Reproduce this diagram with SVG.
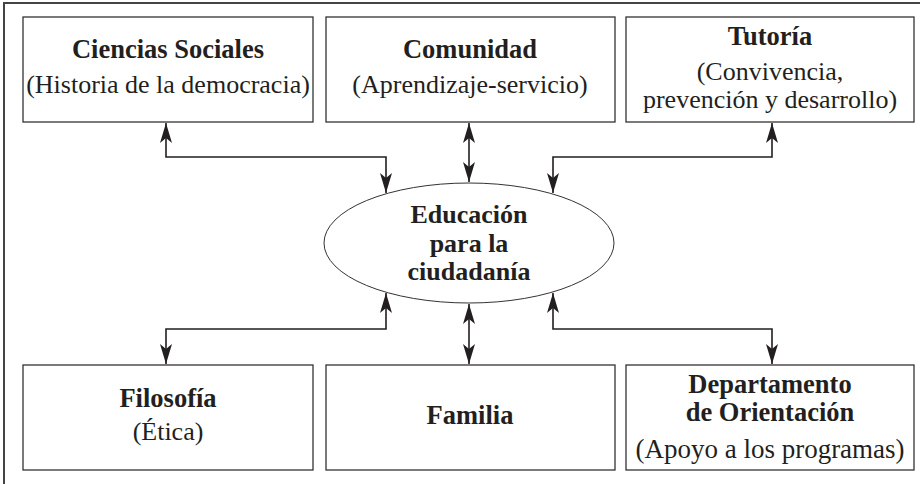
<svg xmlns="http://www.w3.org/2000/svg" width="920" height="484" viewBox="0 0 920 484">
<style>
.box{fill:#fff;stroke:#333;stroke-width:1.3}
.t{font-family:"Liberation Serif","Times New Roman",serif;font-size:26px;fill:#231f20;text-anchor:middle}
.b{font-weight:bold;font-size:26.5px}
.e{font-weight:bold;font-size:26px}
.c{fill:none;stroke:#231f20;stroke-width:1.6}
</style>
<defs>
<marker id="ah" viewBox="0 0 20 12" refX="20" refY="6" markerWidth="20" markerHeight="12" markerUnits="userSpaceOnUse" orient="auto-start-reverse">
<path d="M0,0 L20,6 L0,12 L5,6 z" fill="#231f20"/>
</marker>
</defs>
<rect x="0" y="0" width="920" height="484" fill="#fff"/>
<rect x="4" y="3" width="940" height="500" fill="none" stroke="#444" stroke-width="2"/>
<g id="connectors">
<path class="c" d="M166,123 V157 H386 V193" marker-start="url(#ah)" marker-end="url(#ah)"/>
<path class="c" d="M469,123 V182" marker-start="url(#ah)" marker-end="url(#ah)"/>
<path class="c" d="M772,123 V157 H553 V193" marker-start="url(#ah)" marker-end="url(#ah)"/>
<path class="c" d="M386,293 V329 H166 V364" marker-start="url(#ah)" marker-end="url(#ah)"/>
<path class="c" d="M469,304 V364" marker-start="url(#ah)" marker-end="url(#ah)"/>
<path class="c" d="M553,293 V329 H772 V364" marker-start="url(#ah)" marker-end="url(#ah)"/>
</g>
<g id="ciencias">
<rect class="box" x="23" y="17" width="290" height="105"/>
<text class="t b" x="168" y="58">Ciencias Sociales</text>
<text class="t" x="168" y="93">(Historia de la democracia)</text>
</g>
<g id="comunidad">
<rect class="box" x="326" y="17" width="289" height="105"/>
<text class="t b" x="470" y="58">Comunidad</text>
<text class="t" x="470" y="93">(Aprendizaje-servicio)</text>
</g>
<g id="tutoria">
<rect class="box" x="626" y="17" width="288" height="105"/>
<text class="t b" x="770" y="45">Tutoría</text>
<text class="t" x="770" y="80">(Convivencia,</text>
<text class="t" x="770" y="108">prevención y desarrollo)</text>
</g>
<g id="educacion">
<ellipse cx="469" cy="243" rx="145" ry="60" fill="#fff" stroke="#333" stroke-width="1"/>
<text class="t e" x="469" y="223">Educación</text>
<text class="t e" x="469" y="252">para la</text>
<text class="t e" x="469" y="280">ciudadanía</text>
</g>
<g id="filosofia">
<rect class="box" x="23" y="365" width="290" height="105"/>
<text class="t b" x="168" y="407">Filosofía</text>
<text class="t" x="168" y="440">(Ética)</text>
</g>
<g id="familia">
<rect class="box" x="326" y="365" width="289" height="105"/>
<text class="t b" x="470" y="424">Familia</text>
</g>
<g id="departamento">
<rect class="box" x="626" y="365" width="288" height="105"/>
<text class="t b" x="770" y="393">Departamento</text>
<text class="t b" x="770" y="421">de Orientación</text>
<text class="t" x="770" y="458" style="font-size:27px">(Apoyo a los programas)</text>
</g>
</svg>
